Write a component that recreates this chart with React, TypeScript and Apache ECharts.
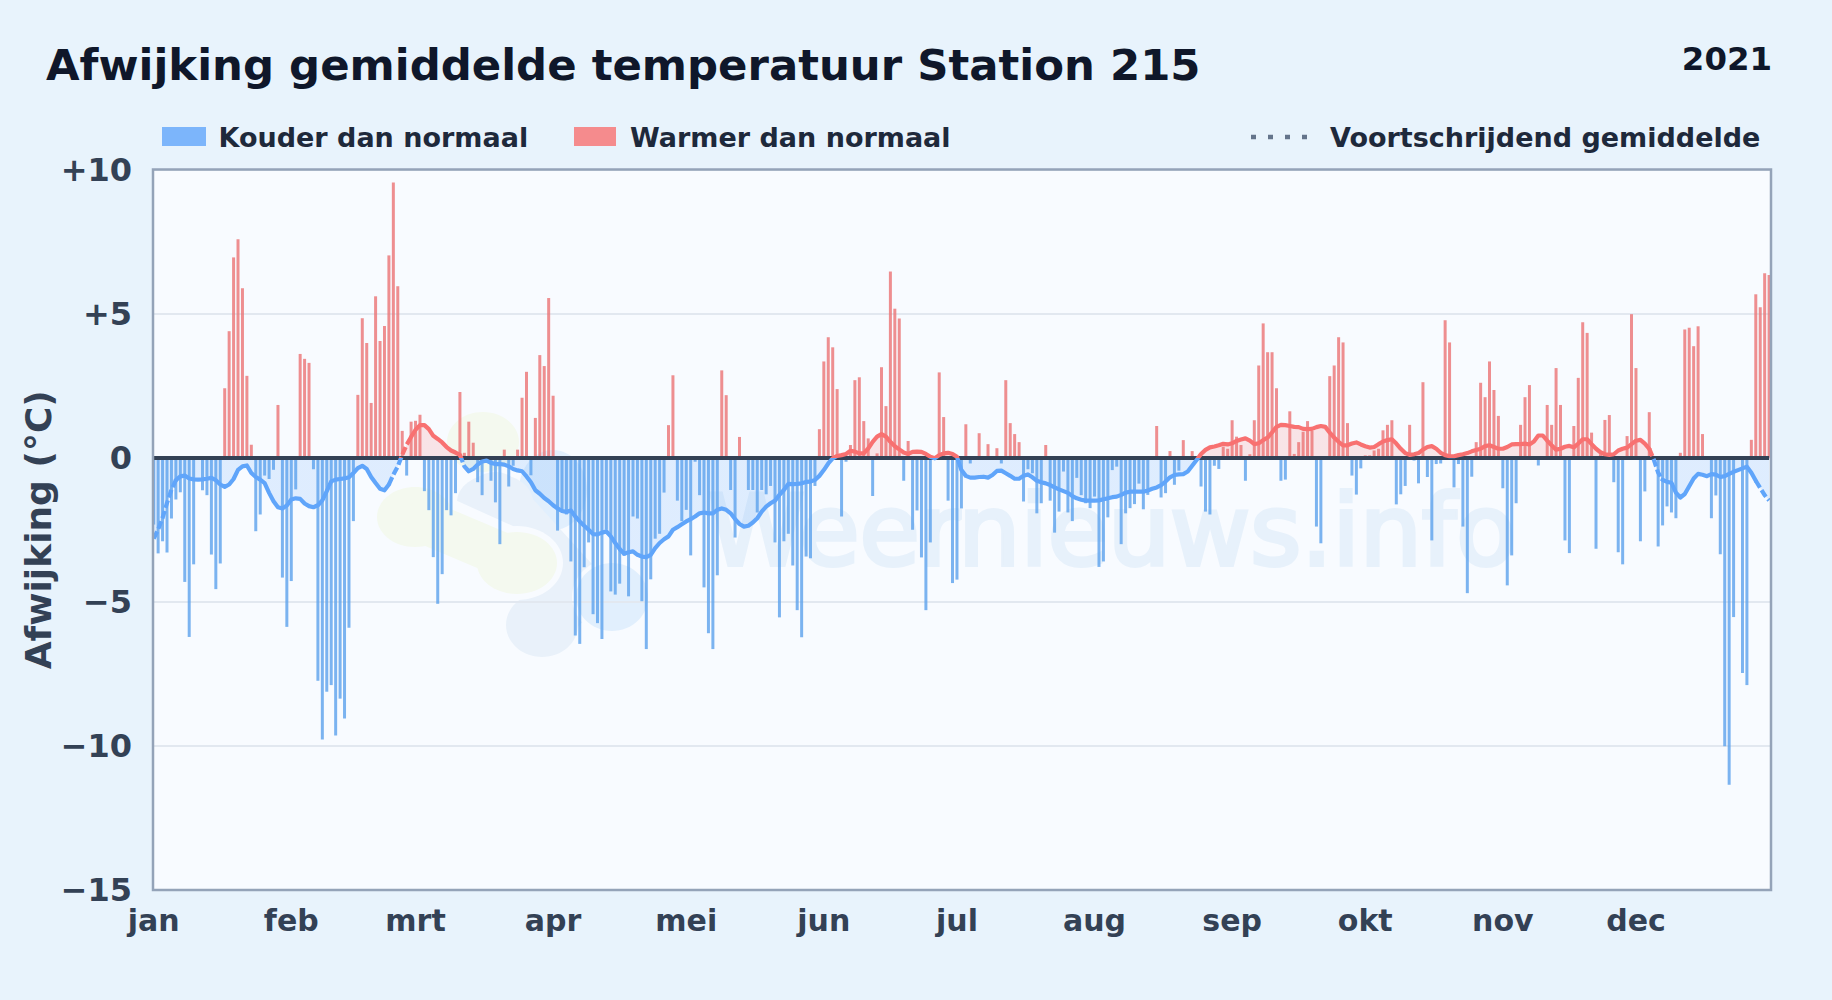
import React, { useEffect, useRef } from "react";
import * as echarts from "echarts";

const FONT = "DejaVu Sans";
const TITLE = "Afwijking gemiddelde temperatuur Station 215";
const YEAR = "2021";
const WATERMARK = "Weernieuws.info";
const LEGEND_COLD = "Kouder dan normaal";
const LEGEND_WARM = "Warmer dan normaal";
const LEGEND_AVG = "Voortschrijdend gemiddelde";
const Y_TITLE = "Afwijking (°C)";

const monthLabels = ["jan", "feb", "mrt", "apr", "mei", "jun", "jul", "aug", "sep", "okt", "nov", "dec"];
const monthStarts = [0, 31, 59, 90, 120, 151, 181, 212, 243, 273, 304, 334];

const dailyAnomaly = [
  -2.32,-3.32,-2.9,-3.29,-2.11,-1.45,-1.2,-4.31,-6.22,-3.7,
  0,-1.13,-1.3,-3.36,-4.56,-3.67,2.41,4.39,6.95,7.58,
  5.88,2.84,.45,-2.55,-1.97,-.62,-.74,-.42,1.83,-4.16,
  -5.87,-4.28,-1.1,3.6,3.43,3.29,-.4,-7.74,-9.78,-8.12,
  -7.89,-9.64,-8.36,-9.05,-5.9,-2.2,2.18,4.84,3.98,1.9,
  5.6,4.05,4.57,7.02,9.55,5.95,.93,-.62,1.25,1.28,
  1.49,-1.16,-1.82,-3.45,-5.07,-4.04,-1.82,-2.0,-1.23,2.28,
  .17,1.25,.52,-.85,-1.3,0,-.8,-1.55,-3.0,.28,
  -1.0,-.28,.28,2.08,2.98,-.61,1.38,3.56,3.18,5.54,
  2.15,-2.53,-1.86,-1.97,-3.6,-6.17,-6.46,-3.8,-2.94,-5.43,
  -5.74,-6.29,-2.5,-4.64,-4.75,-4.37,-3.4,-4.81,-2.04,-2.11,
  -4.98,-6.64,-4.22,-2.81,-2.64,-1.21,1.13,2.86,-1.49,-2.2,
  -1.81,-3.39,-.14,-1.3,-4.5,-6.09,-6.64,-4.08,3.03,2.17,
  -1.12,-2.77,.72,0,-1.12,-1.12,-1.9,-1.12,-1.27,-.98,
  -2.94,-5.54,-2.9,-2.64,-3.74,-5.29,-6.23,-3.43,-3.49,-.98,
  .99,3.34,4.18,3.83,2.38,-2.04,-.14,.44,2.69,2.79,
  1.27,.67,-1.33,.15,3.14,1.79,6.46,5.17,4.83,-.8,
  .58,-2.5,-1.83,-3.46,-5.29,-2.94,-.08,2.96,1.41,-1.49,
  -4.35,-4.23,-1.76,1.16,-.2,0,.85,0,.47,0,
  .33,-.2,2.69,1.2,.82,.54,-1.52,-.4,-.54,-1.93,
  -1.58,.44,-1.49,-2.6,-1.87,-.48,-1.9,-2.2,-.7,-1.3,
  -1.58,-1.75,-1.35,-3.79,-3.6,-2.07,-.43,-.31,-3.0,-1.93,
  -1.75,-1.61,-.9,-1.79,-1.29,0,1.1,-1.38,-1.23,.23,
  -.94,-.45,.61,0,.23,0,-1.0,-1.87,-1.97,-.28,
  -.39,.38,.31,1.3,.73,.44,-.8,.12,1.3,3.2,
  4.66,3.66,3.66,2.41,-.8,-.76,1.61,.13,.54,.9,
  1.27,.93,-2.39,-2.97,0,2.83,3.2,4.18,4.0,1.2,
  -.62,-1.28,-.37,.08,.08,.25,.31,.95,1.14,1.3,
  -1.62,-1.27,-.98,1.14,-.1,-.89,2.62,-.67,-2.87,-.22,
  -.2,4.77,4.0,-1.03,-.22,-2.39,-4.7,-.66,.54,2.6,
  2.1,3.34,2.35,1.45,-1.06,-4.43,-3.39,-1.58,1.14,2.1,
  2.52,0,-.27,0,1.83,1.14,3.11,1.83,-2.87,-3.31,
  1.1,2.77,4.7,4.33,.87,-3.16,.12,1.31,1.48,-.85,
  -3.28,-3.7,.75,4.98,3.11,-2.9,-1.17,1.58,0,-3.08,
  -2.35,-1.69,-1.9,-2.1,.17,4.45,4.51,3.87,4.56,.82,
  0,-2.1,-1.31,-3.35,-10.01,-11.35,-5.53,0,-7.47,-7.89,
  .62,5.67,5.22,6.4,6.34,
];

const movingAverage = [
  -2.81,-2.49,-2.09,-1.57,-1.11,-.78,-.65,-.62,-.72,-.75,
  -.76,-.75,-.73,-.7,-.78,-.93,-1.01,-.93,-.74,-.42,
  -.3,-.27,-.53,-.67,-.76,-.88,-1.22,-1.51,-1.72,-1.76,
  -1.66,-1.45,-1.41,-1.43,-1.59,-1.68,-1.72,-1.65,-1.48,-1.16,
  -.82,-.76,-.74,-.72,-.68,-.53,-.36,-.28,-.39,-.67,
  -.88,-1.08,-1.13,-.93,-.59,-.3,.1,.45,.72,.97,
  1.13,1.13,.99,.76,.65,.53,.37,.25,.18,.1,
  -.3,-.47,-.39,-.24,-.13,-.1,-.18,-.22,-.22,-.24,
  -.3,-.39,-.44,-.47,-.65,-.85,-1.13,-1.25,-1.4,-1.51,
  -1.65,-1.76,-1.85,-1.88,-1.83,-2.04,-2.21,-2.36,-2.5,-2.65,
  -2.66,-2.6,-2.56,-2.73,-2.96,-3.17,-3.33,-3.28,-3.25,-3.37,
  -3.43,-3.45,-3.37,-3.14,-2.96,-2.83,-2.73,-2.5,-2.41,-2.31,
  -2.21,-2.13,-2.04,-1.93,-1.9,-1.93,-1.93,-1.81,-1.76,-1.81,
  -1.93,-2.13,-2.3,-2.39,-2.36,-2.25,-2.1,-1.87,-1.7,-1.58,
  -1.49,-1.29,-1.12,-.91,-.92,-.91,-.89,-.84,-.83,-.77,
  -.63,-.43,-.2,-.02,.06,.09,.13,.24,.21,.15,
  .15,.32,.55,.73,.82,.73,.55,.4,.29,.18,
  .13,.2,.21,.2,.13,.03,-.02,.09,.15,.17,
  .13,.03,-.43,-.63,-.69,-.69,-.67,-.66,-.69,
  -.6,-.46,-.45,-.54,-.63,-.73,-.73,-.63,-.58,-.68,
  -.8,-.85,-.89,-.95,-1.03,-1.1,-1.16,-1.22,-1.33,-1.41,
  -1.46,-1.49,-1.49,-1.49,-1.48,-1.44,-1.41,-1.37,-1.35,-1.29,
  -1.21,-1.18,-1.18,-1.18,-1.18,-1.14,-1.08,-1.03,-.95,-.83,
  -.68,-.6,-.58,-.57,-.48,-.28,-.08,.13,.27,.36,
  .39,.43,.48,.46,.5,.58,.63,.67,.59,.47,
  .5,.61,.7,.88,1.07,1.14,1.13,1.1,1.07,1.06,
  1.0,.99,1.0,1.06,1.1,1.07,.87,.7,.55,.43,
  .43,.49,.53,.46,.4,.35,.37,.47,.56,.61,
  .64,.49,.31,.16,.1,.12,.16,.28,.37,.4,
  .31,.17,.09,.05,.05,.09,.12,.16,.22,.27,
  .31,.4,.43,.37,.31,.31,.37,.46,.47,.47,
  .49,.46,.56,.77,.77,.59,.43,.28,.31,.38,
  .41,.36,.49,.64,.64,.47,.31,.19,.12,.1,
  .12,.25,.31,.35,.47,.59,.62,.49,.31,-.06,
  -.52,-.77,-.84,-.87,-1.21,-1.38,-1.26,-.99,-.72,-.56,
  -.59,-.64,-.57,-.59,-.67,-.64,-.56,-.49,-.43,-.37,
  -.31,-.52,-.8,-1.05,-1.3,-1.48,
];

const dashedDayRanges = [[0, 5], [53, 58], [69, 71], [337, 340], [361, 364]];

const PLOT = { left: 153, right: 1771, top: 169.5, bottom: 890 };
const DAY_AXIS = { left: 153.7, right: 1769.1 };
const COLD = "#60a5fa";
const WARM = "#f87171";
const COLD_BAR = "#5ba1ec";
const WARM_BAR = "#eb7374";
const INK = "#334155";
const LEGEND_INK = "#1e293b";
const LOGO_GREEN = "#f4f9ef";
const LOGO_BLUE = "#e9f1fa";
const LOGO_SKY = "#e1effd";

const days = dailyAnomaly.map((_, i) => String(i));
const coldBars = dailyAnomaly.map((v) => (v < 0 ? v : null));
const warmBars = dailyAnomaly.map((v) => (v > 0 ? v : null));
const inDashedRange = (i: number) => dashedDayRanges.some(([a, b]) => i >= a && i <= b);
const isHidden = (i: number) => dashedDayRanges.some(([a, b]) => i >= a && i < b && (i > a || a === 0));
const solidLine = movingAverage.map((v, i) => (isHidden(i) ? null : v));
const dashedLine = movingAverage.map((v, i) => (inDashedRange(i) ? v : null));

const blob = (cx: number, cy: number, rx: number, ry: number, fill: string) => ({
  type: "ellipse",
  z: 0,
  silent: true,
  shape: { cx, cy, rx, ry },
  style: { fill },
});

const band = (x1: number, y1: number, x2: number, y2: number, width: number, stroke: string) => ({
  type: "line",
  z: 0,
  silent: true,
  shape: { x1, y1, x2, y2 },
  style: { stroke, lineWidth: width, lineCap: "round" },
});

const legendText = (text: string, x: number) => ({
  type: "text",
  z: 20,
  silent: true,
  x,
  y: 137,
  style: { text, fill: LEGEND_INK, font: `bold 27px '${FONT}'`, textAlign: "left", textVerticalAlign: "middle" },
});

export default function App() {
  const ref = useRef<HTMLDivElement>(null);
  useEffect(() => {
    const chart = echarts.init(ref.current!, undefined, { renderer: "svg" });
    const w = PLOT.right - PLOT.left;
    const h = PLOT.bottom - PLOT.top;
    chart.setOption({
      animation: false,
      backgroundColor: "#e8f3fc",
      title: [
        { text: TITLE, left: 46, top: 43, padding: 0, textStyle: { fontFamily: FONT, fontWeight: "bold", fontSize: 43.4, color: "#0f172a" } },
        { text: YEAR, right: 60, top: 43, padding: 0, textStyle: { fontFamily: FONT, fontWeight: "bold", fontSize: 32.4, color: "#0f172a" } },
      ],
      grid: [
        { left: DAY_AXIS.left, top: PLOT.top, width: DAY_AXIS.right - DAY_AXIS.left, height: h, containLabel: false, outerBoundsMode: "none" },
        { left: PLOT.left, top: PLOT.top, width: w, height: h, containLabel: false, outerBoundsMode: "none" },
      ],
      graphic: {
        elements: [
          { type: "rect", z: 0, silent: true, shape: { x: PLOT.left, y: PLOT.top, width: w, height: h }, style: { fill: "#f8fbff" } },
          blob(553, 490, 34, 40, LOGO_SKY),
          band(495, 502, 575, 590, 60, LOGO_BLUE),
          band(575, 590, 542, 625, 55, LOGO_BLUE),
          blob(495, 502, 38, 28, LOGO_BLUE),
          blob(542, 625, 36, 32, LOGO_BLUE),
          band(415, 517, 517, 563, 64, "#f8fbff"),
          blob(517, 563, 46, 37, "#f8fbff"),
          blob(612, 597, 40, 38, "#f8fbff"),
          blob(612, 597, 36, 34, LOGO_SKY),
          blob(415, 517, 38, 30, LOGO_GREEN),
          blob(483, 442, 36, 30, LOGO_GREEN),
          band(425, 522, 510, 558, 44, LOGO_GREEN),
          blob(517, 563, 40, 31, LOGO_GREEN),
          {
            type: "text",
            z: 0,
            silent: true,
            x: 708,
            y: 531,
            style: { text: WATERMARK, fill: "#e7f1fb", stroke: "#e7f1fb", lineWidth: 4, font: `98px '${FONT}'`, textAlign: "left", textVerticalAlign: "middle" },
          },
          { type: "rect", z: 20, silent: true, shape: { x: PLOT.left, y: PLOT.top, width: w, height: h }, style: { fill: "none", stroke: "#94a3b8", lineWidth: 2.5 } },
          { type: "rect", z: 20, silent: true, shape: { x: 162, y: 127, width: 44, height: 19 }, style: { fill: COLD, opacity: 0.8 } },
          legendText(LEGEND_COLD, 218.5),
          { type: "rect", z: 20, silent: true, shape: { x: 574, y: 127, width: 42, height: 19 }, style: { fill: WARM, opacity: 0.8 } },
          legendText(LEGEND_WARM, 630),
          { type: "line", z: 20, silent: true, shape: { x1: 1251, y1: 137, x2: 1308, y2: 137 }, style: { stroke: "#64748b", lineWidth: 4.5, lineDash: [5, 12] } },
          legendText(LEGEND_AVG, 1330),
        ],
      },
      xAxis: [
        {
          type: "category",
          gridIndex: 0,
          z: 1,
          data: days,
          boundaryGap: false,
          axisLine: { show: false },
          axisTick: { show: false },
          splitLine: { show: false },
          axisLabel: {
            interval: (i: number) => monthStarts.includes(i),
            formatter: (_: string, i: number) => monthLabels[monthStarts.indexOf(i)] ?? "",
            margin: 15,
            hideOverlap: false,
            fontFamily: FONT,
            fontWeight: "bold",
            fontSize: 30,
            color: INK,
          },
        },
        { type: "value", gridIndex: 1, min: 0, max: 1, show: false },
      ],
      yAxis: [
        {
          type: "value",
          gridIndex: 0,
          z: 1,
          min: -15,
          max: 10,
          interval: 5,
          name: Y_TITLE,
          nameLocation: "middle",
          nameGap: 97,
          nameMoveOverlap: false,
          nameTextStyle: { fontFamily: FONT, fontWeight: "bold", fontSize: 36, color: INK },
          axisLine: { show: false },
          axisTick: { show: false },
          splitLine: { show: false },
          axisLabel: {
            margin: 21.7,
            fontFamily: FONT,
            fontWeight: "bold",
            fontSize: 32,
            color: INK,
            formatter: (v: number) => (v > 0 ? `+${v}` : v < 0 ? `\u2212${-v}` : "0"),
          },
        },
        {
          type: "value",
          gridIndex: 1,
          z: 1,
          min: -15,
          max: 10,
          interval: 5,
          axisLine: { show: false },
          axisTick: { show: false },
          axisLabel: { show: false },
          splitLine: { lineStyle: { color: "#e2e8f0", width: 2 } },
        },
      ],
      visualMap: {
        show: false,
        seriesIndex: [2, 3, 4],
        dimension: 1,
        pieces: [
          { min: -100, max: 0, color: COLD },
          { min: 0, max: 100, color: WARM },
        ],
      },
      series: [
        { type: "bar", name: LEGEND_COLD, data: coldBars, barWidth: 3, barGap: "-100%", clip: false, z: 3, itemStyle: { color: COLD_BAR, opacity: 0.8 } },
        {
          type: "bar",
          name: LEGEND_WARM,
          data: warmBars,
          barWidth: 3,
          clip: false,
          z: 3,
          itemStyle: { color: WARM_BAR, opacity: 0.8 },
          markLine: {
            silent: true,
            symbol: "none",
            label: { show: false },
            lineStyle: { color: "#334155", width: 4, type: "solid" },
            data: [{ yAxis: 0 }],
            z: 5,
          },
        },
        { type: "line", data: movingAverage, showSymbol: false, z: 2, lineStyle: { width: 0 }, areaStyle: { opacity: 0.17 } },
        { type: "line", name: LEGEND_AVG, data: solidLine, showSymbol: false, z: 6, connectNulls: false, lineStyle: { width: 4.2, cap: "round", join: "round" } },
        { type: "line", data: dashedLine, showSymbol: false, z: 6, connectNulls: false, lineStyle: { width: 4.2, type: [8, 3] } },
      ],
    });
    return () => chart.dispose();
  }, []);
  return <div ref={ref} style={{ position: "fixed", left: 0, top: 0, width: 1832, height: 1000 }} />;
}
